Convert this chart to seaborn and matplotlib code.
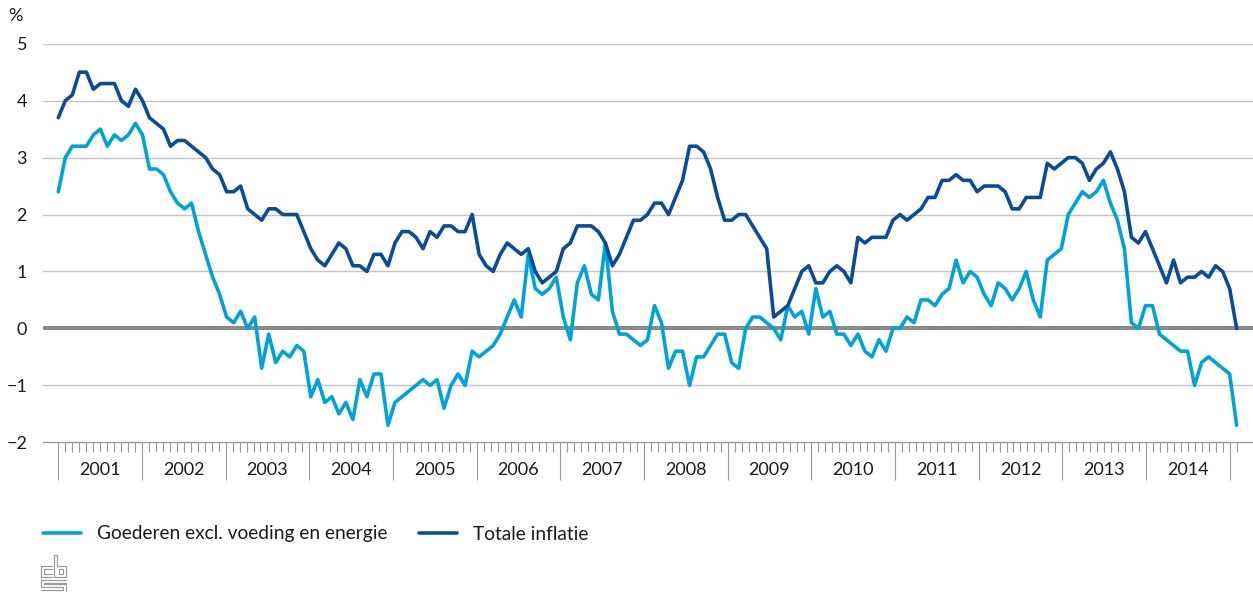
import numpy as np
import pandas as pd
import matplotlib
matplotlib.use("Agg")
import matplotlib.pyplot as plt
from matplotlib.lines import Line2D
import seaborn as sns

# ---------------- data (monthly, Jan 2001 .. Jan 2015) ----------------
years = [str(y) for y in range(2001, 2015)]
series_names = ["Goederen excl. voeding en energie", "Totale inflatie"]

totale_inflatie = [
    3.7, 4.0, 4.1, 4.5, 4.5, 4.2, 4.3, 4.3, 4.3, 4.0, 3.9, 4.2,
    4.0, 3.7, 3.6, 3.5, 3.2, 3.3, 3.3, 3.2, 3.1, 3.0, 2.8, 2.7,
    2.4, 2.4, 2.5, 2.1, 2.0, 1.9, 2.1, 2.1, 2.0, 2.0, 2.0, 1.7,
    1.4, 1.2, 1.1, 1.3, 1.5, 1.4, 1.1, 1.1, 1.0, 1.3, 1.3, 1.1,
    1.5, 1.7, 1.7, 1.6, 1.4, 1.7, 1.6, 1.8, 1.8, 1.7, 1.7, 2.0,
    1.3, 1.1, 1.0, 1.3, 1.5, 1.4, 1.3, 1.4, 1.0, 0.8, 0.9, 1.0,
    1.4, 1.5, 1.8, 1.8, 1.8, 1.7, 1.5, 1.1, 1.3, 1.6, 1.9, 1.9,
    2.0, 2.2, 2.2, 2.0, 2.3, 2.6, 3.2, 3.2, 3.1, 2.8, 2.3, 1.9,
    1.9, 2.0, 2.0, 1.8, 1.6, 1.4, 0.2, 0.3, 0.4, 0.7, 1.0, 1.1,
    0.8, 0.8, 1.0, 1.1, 1.0, 0.8, 1.6, 1.5, 1.6, 1.6, 1.6, 1.9,
    2.0, 1.9, 2.0, 2.1, 2.3, 2.3, 2.6, 2.6, 2.7, 2.6, 2.6, 2.4,
    2.5, 2.5, 2.5, 2.4, 2.1, 2.1, 2.3, 2.3, 2.3, 2.9, 2.8, 2.9,
    3.0, 3.0, 2.9, 2.6, 2.8, 2.9, 3.1, 2.8, 2.4, 1.6, 1.5, 1.7,
    1.4, 1.1, 0.8, 1.2, 0.8, 0.9, 0.9, 1.0, 0.9, 1.1, 1.0, 0.7,
    0.0,
]

goederen = [
    2.4, 3.0, 3.2, 3.2, 3.2, 3.4, 3.5, 3.2, 3.4, 3.3, 3.4, 3.6,
    3.4, 2.8, 2.8, 2.7, 2.4, 2.2, 2.1, 2.2, 1.7, 1.3, 0.9, 0.6,
    0.2, 0.1, 0.3, 0.0, 0.2, -0.7, -0.1, -0.6, -0.4, -0.5, -0.3, -0.4,
    -1.2, -0.9, -1.3, -1.2, -1.5, -1.3, -1.6, -0.9, -1.2, -0.8, -0.8, -1.7,
    -1.3, -1.2, -1.1, -1.0, -0.9, -1.0, -0.9, -1.4, -1.0, -0.8, -1.0, -0.4,
    -0.5, -0.4, -0.3, -0.1, 0.2, 0.5, 0.2, 1.3, 0.7, 0.6, 0.7, 0.9,
    0.2, -0.2, 0.8, 1.1, 0.6, 0.5, 1.5, 0.3, -0.1, -0.1, -0.2, -0.3,
    -0.2, 0.4, 0.1, -0.7, -0.4, -0.4, -1.0, -0.5, -0.5, -0.3, -0.1, -0.1,
    -0.6, -0.7, 0.0, 0.2, 0.2, 0.1, 0.0, -0.2, 0.4, 0.2, 0.3, -0.1,
    0.7, 0.2, 0.3, -0.1, -0.1, -0.3, -0.1, -0.4, -0.5, -0.2, -0.4, 0.0,
    0.0, 0.2, 0.1, 0.5, 0.5, 0.4, 0.6, 0.7, 1.2, 0.8, 1.0, 0.9,
    0.6, 0.4, 0.8, 0.7, 0.5, 0.7, 1.0, 0.5, 0.2, 1.2, 1.3, 1.4,
    2.0, 2.2, 2.4, 2.3, 2.4, 2.6, 2.2, 1.9, 1.4, 0.1, 0.0, 0.4,
    0.4, -0.1, -0.2, -0.3, -0.4, -0.4, -1.0, -0.6, -0.5, -0.6, -0.7, -0.8,
    -1.7,
]

y_ticks = [-2, -1, 0, 1, 2, 3, 4, 5]

# ---------------- styling ----------------
LIGHT = "#00a3d9"
DARK = "#0a4b9a"
GRID = "#c4c4c4"
AXIS = "#9a9a9a"
ZERO = "#8a8a8a"
TXT = "#1a1a1a"

sns.set_theme(style="white")
plt.rcParams["font.family"] = ["Lato", "DejaVu Sans"]
plt.rcParams["axes.unicode_minus"] = True

W, H = 1253, 592
fig = plt.figure(figsize=(W / 100, H / 100), dpi=100)

def fx(px):
    return px / W

def fy(py):
    return 1 - py / H

ax_left, ax_top, ax_bottom = 42.7, 43.7, 442.3
ax = fig.add_axes([fx(ax_left), fy(ax_bottom), 1 - fx(ax_left), (ax_bottom - ax_top) / H])

n = len(totale_inflatie)
df = pd.DataFrame({
    "maand": list(range(n)) * 2,
    "waarde": goederen + totale_inflatie,
    "reeks": [series_names[0]] * n + [series_names[1]] * n,
})

# grid + zero line
for v in y_ticks:
    if v not in (-2, 0):
        ax.axhline(v, color=GRID, lw=1.0, zorder=1)
ax.axhline(0, color=ZERO, lw=2.9, zorder=2)

sns.lineplot(data=df, x="maand", y="waarde", hue="reeks",
             palette={series_names[0]: LIGHT, series_names[1]: DARK},
             linewidth=2.6, ax=ax, legend=False, zorder=3)

px_per_month = 7.014
first_px = 58.3
ax.set_xlim((ax_left - first_px) / px_per_month, (W - first_px) / px_per_month)
ax.set_ylim(-2, 5)

# axes styling
for s in ["top", "right", "left"]:
    ax.spines[s].set_visible(False)
ax.spines["bottom"].set_color(AXIS)
ax.spines["bottom"].set_linewidth(1.0)
ax.set_xlabel("")
ax.set_ylabel("")
ax.set_yticks(y_ticks)
ax.set_yticklabels([f"{v}".replace("-", "\u2212") for v in y_ticks])
ax.tick_params(axis="y", left=False, length=0, pad=11.3, labelsize=13, labelcolor=TXT)

scale = 167 / 168
major_pos = [k * 12 * scale for k in range(len(years) + 1)]
minor_pos = [j * scale for j in range(1, 168) if j % 12 != 0] + [168]
ax.set_xticks(major_pos)
ax.set_xticklabels([""] * len(major_pos))
ax.set_xticks(minor_pos, minor=True)
ax.tick_params(axis="x", which="both", bottom=True)
ax.tick_params(axis="x", which="major", length=27.4, width=0.8, color=AXIS, direction="out")
ax.tick_params(axis="x", which="minor", length=7.2, width=0.8, color=AXIS, direction="out")

for i, yr in enumerate(years):
    xm = (major_pos[i] + major_pos[i + 1]) / 2
    ax.annotate(yr, xy=(xm, 0), xycoords=("data", "axes fraction"),
                xytext=(0, -20.0), textcoords="offset points",
                ha="center", va="center", fontsize=13, color=TXT,
                annotation_clip=False)

# unit label
fig.text(fx(8), fy(16), "%", ha="left", va="center", fontsize=13, color=TXT)

# legend
handles = [Line2D([0], [0], color=LIGHT, lw=2.6), Line2D([0], [0], color=DARK, lw=2.6)]
leg = fig.legend(handles, series_names, loc="center left",
                 bbox_to_anchor=(fx(42.7), fy(534)), ncol=2, frameon=False,
                 fontsize=13.8, handlelength=1.98, handletextpad=0.83,
                 columnspacing=1.67, borderpad=0, borderaxespad=0)
for t in leg.get_texts():
    t.set_color(TXT)

# small cbs logo (drawn with lines)
LOGO = "#9c9c9c"
def pl(xs, ys):
    fig.add_artist(Line2D([fx(x) for x in xs], [fy(y) for y in ys],
                          color=LOGO, lw=0.9, transform=fig.transFigure))
# c
pl([52, 41, 41, 52], [566, 566, 577, 577])
pl([52, 44, 44, 52], [569, 569, 574, 574])
# b
pl([54, 57, 57, 66, 66, 54, 54], [555, 555, 566, 566, 577, 577, 555])
pl([59, 63, 63, 59, 59], [569, 569, 574, 574, 569])
# s
pl([66, 41, 41, 63, 63, 41], [580, 580, 587, 587, 590, 590])
pl([66, 44, 44, 66, 66], [583, 583, 584, 584, 592])

fig.savefig("out.png", dpi=100)
